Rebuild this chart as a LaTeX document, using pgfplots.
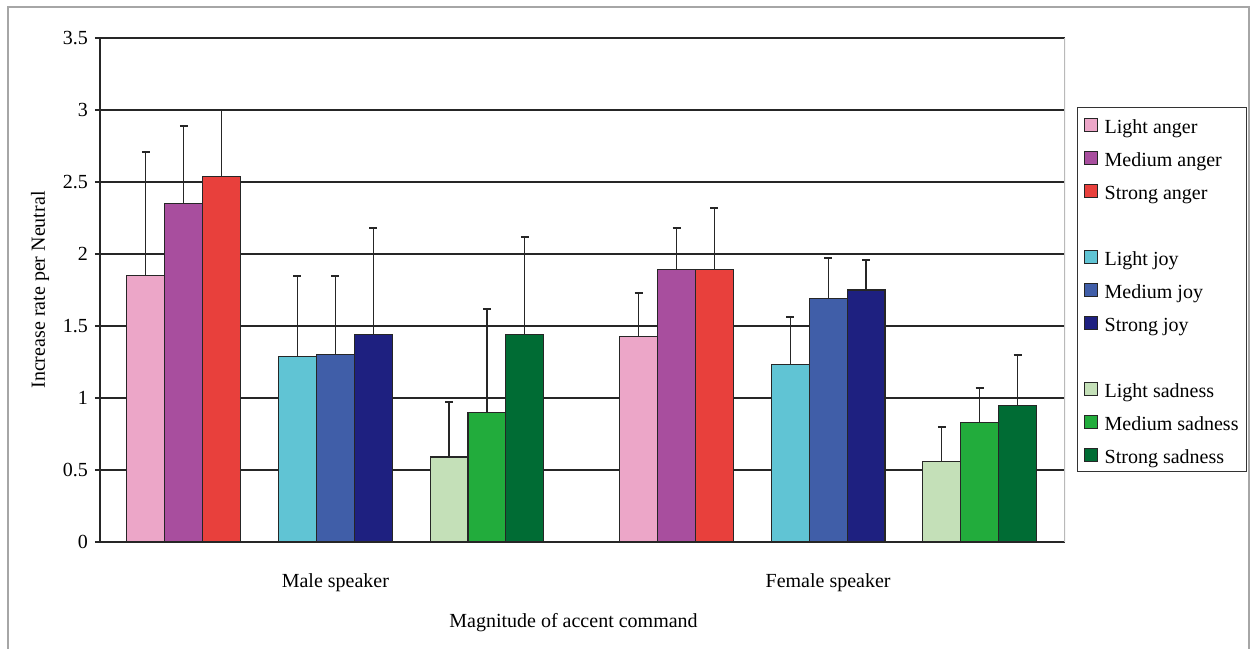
\documentclass[border=0pt]{standalone}
\usepackage{pgfplots}
\pgfplotsset{compat=1.18}
\usepackage{fontspec}
\setmainfont{Liberation Serif}

% bar colours
\definecolor{cLA}{RGB}{236,166,200}
\definecolor{cMA}{RGB}{168,78,158}
\definecolor{cSA}{RGB}{232,64,60}
\definecolor{cLJ}{RGB}{96,196,212}
\definecolor{cMJ}{RGB}{64,94,168}
\definecolor{cSJ}{RGB}{30,32,128}
\definecolor{cLS}{RGB}{196,224,184}
\definecolor{cMS}{RGB}{34,172,60}
\definecolor{cSS}{RGB}{0,108,52}

\pgfplotsset{
  emobar/.style={
    ybar, bar width=1, bar shift=0pt,
    fill=#1, draw=black!85, line width=0.55pt,
    /pgfplots/legend image code/.code={\draw[##1] (0pt,-3.2pt) rectangle (6.5pt,3.2pt);},
    error bars/.cd, y dir=plus, y explicit,
    error bar style={black!85, line width=0.6pt},
    error mark options={rotate=90, black!85, line width=0.9pt, mark size=2pt}
  }
}

\begin{document}
\begin{tikzpicture}
\useasboundingbox (0,0) rectangle (626pt,324pt);
% outer frame
\draw[gray!70, line width=0.8pt] (4pt,-5pt) -- (4pt,320.5pt) -- (624.5pt,320.5pt) -- (624.5pt,-5pt);
\begin{axis}[
  at={(50pt,53pt)}, anchor=south west,
  scale only axis, width=482.5pt, height=252pt,
  xmin=0, xmax=25.46, ymin=0, ymax=3.5,
  ytick={0,0.5,1,1.5,2,2.5,3,3.5},
  xtick={6.21,19.21}, xticklabels={Male speaker, Female speaker},
  axis lines*=left,
  axis line style={black!85, line width=0.6pt},
  ymajorgrids, grid style={black!85, line width=0.6pt},
  tick align=outside, major tick length=2.5pt,
  ytick style={black!85, line width=0.6pt},
  xtick style={draw=none},
  /pgf/number format/assume math mode=true,
  tick label style={font=\fontsize{10}{12}\selectfont},
  label style={font=\fontsize{10}{12}\selectfont},
  xticklabel style={anchor=base, yshift=-20pt},
  ylabel={Increase rate per Neutral},
  ylabel style={at={(axis description cs:-0.0622,0.5)}, anchor=center, rotate=0},
  xlabel={Magnitude of accent command},
  xlabel style={at={(axis description cs:0.4907,0)}, anchor=base, yshift=-42.5pt},
  legend cell align=left,
  legend style={
    at={(axis description cs:1.0124,0.863)}, anchor=north west,
    draw=black!80, line width=0.6pt, fill=white,
    font=\fontsize{10}{12}\selectfont,
    inner sep=3pt, row sep=5.5pt,
    nodes={inner sep=1pt, text height=9pt, text depth=0pt},
    /tikz/every odd column/.append style={column sep=2.5pt},
  },
]
\draw[gray!55, line width=0.6pt] (rel axis cs:1,0) -- (rel axis cs:1,1);

% anger
\addplot[emobar=cLA] coordinates {(1.21,1.85) +- (0,0.86) (14.21,1.43) +- (0,0.30)};
\addlegendentry{Light anger}
\addplot[emobar=cMA] coordinates {(2.21,2.35) +- (0,0.54) (15.21,1.89) +- (0,0.29)};
\addlegendentry{Medium anger}
\addplot[emobar=cSA] coordinates {(3.21,2.54) +- (0,0.46) (16.21,1.89) +- (0,0.43)};
\addlegendentry{Strong anger}
\addlegendimage{empty legend}\addlegendentry{}

% joy
\addplot[emobar=cLJ] coordinates {(5.21,1.29) +- (0,0.56) (18.21,1.23) +- (0,0.33)};
\addlegendentry{Light joy}
\addplot[emobar=cMJ] coordinates {(6.21,1.30) +- (0,0.55) (19.21,1.69) +- (0,0.28)};
\addlegendentry{Medium joy}
\addplot[emobar=cSJ] coordinates {(7.21,1.44) +- (0,0.74) (20.21,1.75) +- (0,0.21)};
\addlegendentry{Strong joy}
\addlegendimage{empty legend}\addlegendentry{}

% sadness
\addplot[emobar=cLS] coordinates {(9.21,0.59) +- (0,0.38) (22.21,0.56) +- (0,0.24)};
\addlegendentry{Light sadness}
\addplot[emobar=cMS] coordinates {(10.21,0.90) +- (0,0.72) (23.21,0.83) +- (0,0.24)};
\addlegendentry{Medium sadness}
\addplot[emobar=cSS] coordinates {(11.21,1.44) +- (0,0.68) (24.21,0.95) +- (0,0.35)};
\addlegendentry{Strong sadness}
\end{axis}
\end{tikzpicture}
\end{document}
